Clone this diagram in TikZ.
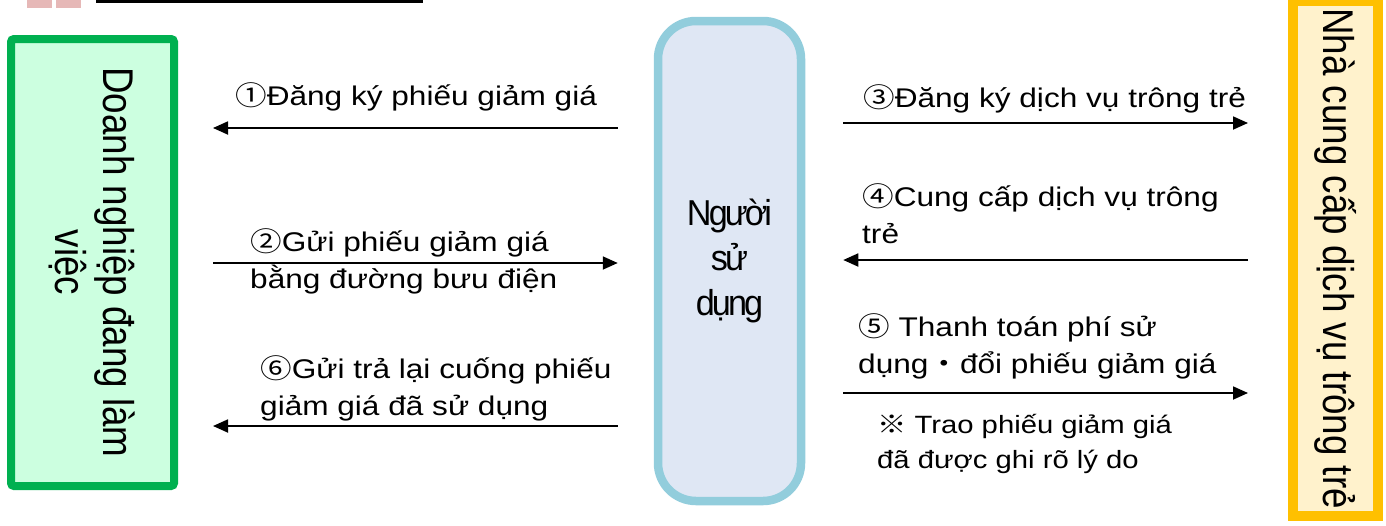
\documentclass[tikz,border=0pt]{standalone}
\usepackage{fontspec}
\setmainfont{Liberation Sans}
\newfontfamily\labfont[FakeStretch=1.17]{Liberation Sans}
\newfontfamily\labcjk[FakeStretch=1.17]{Noto Sans CJK JP}
\newfontfamily\sidefont[FakeStretch=0.855]{Liberation Sans}
\newfontfamily\ctrfont[FakeStretch=0.95,LetterSpace=-8]{Liberation Sans}
\newcommand\cj[1]{{\labcjk #1}}
\usetikzlibrary{arrows.meta,calc}
\definecolor{grnline}{HTML}{00B050}
\definecolor{grnfill}{HTML}{CCFFE0}
\definecolor{ylwline}{HTML}{FFC000}
\definecolor{ylwfill}{HTML}{FFF2CC}
\definecolor{bluline}{HTML}{92CDDC}
\definecolor{blufill}{HTML}{DFE7F4}
\definecolor{pinkbox}{HTML}{E6B8B7}
\tikzset{
  arr/.style={line width=1.8pt,-{Triangle[length=15pt,width=13pt]}},
  lab/.style={anchor=base west,align=left,inner sep=0pt,font=\labfont\fontsize{27}{37}\selectfont},
  notelab/.style={anchor=base west,align=left,inner sep=0pt,font=\labfont\fontsize{25}{35}\selectfont},
  sidetxt/.style={rotate=-90,align=center,inner sep=0pt,font=\sidefont\fontsize{43}{48}\selectfont},
}
\begin{document}
\begin{tikzpicture}[x=1pt,y=-1pt]
\useasboundingbox (0,0) rectangle (1386,525);
% header fragment
\fill[pinkbox] (27,-1) rectangle (52,8);
\fill[pinkbox] (56,-1) rectangle (81,8);
\draw[line width=3pt] (96,1.5) -- (423,1.5);
% boxes
\node[draw=grnline,fill=grnfill,line width=8pt,rounded corners=3pt,
      minimum width=163pt,minimum height=447pt,inner sep=0pt] (comp) at (92.5,262.5) {};
\node[sidetxt] (compt) at (comp.center) {Doanh nghiệp đang làm\\việc};
\node[draw=ylwline,fill=ylwfill,line width=10pt,
      minimum width=85pt,minimum height=515pt,inner sep=0pt] (prov) at (1335.5,258.5) {};
\node[sidetxt] (provt) at (prov.center) {Nhà cung cấp dịch vụ trông trẻ};
\node[draw=bluline,fill=blufill,line width=8.5pt,rounded corners=38pt,
      minimum width=143pt,minimum height=480pt,inner sep=0pt,
      font=\ctrfont\fontsize{36}{45}\selectfont] (user) at (729.5,261)
      {\raisebox{-11pt}{\begin{tabular}{@{}c@{}}Người\\sử\\dụng\end{tabular}}};
% row coordinates
\coordinate (r1) at (0,128);
\coordinate (r2) at (0,263);
\coordinate (r6) at (0,426);
\coordinate (r3) at (0,123);
\coordinate (r4) at (0,260);
\coordinate (r5) at (0,393);
% connectors
\draw[arr,shorten <=36pt,shorten >=35pt] (user.west |- r1) -- (comp.east |- r1);
\draw[arr,shorten <=35pt,shorten >=36pt] (comp.east |- r2) -- (user.west |- r2);
\draw[arr,shorten <=36pt,shorten >=35pt] (user.west |- r6) -- (comp.east |- r6);
\draw[arr,shorten <=38pt,shorten >=40pt] (user.east |- r3) -- (prov.west |- r3);
\draw[arr,shorten <=40pt,shorten >=38pt] (prov.west |- r4) -- (user.east |- r4);
\draw[arr,shorten <=38pt,shorten >=40pt] (user.east |- r5) -- (prov.west |- r5);
% labels (multi-line nodes: base = last line)
\node[lab] (l1) at (235,105) {\cj{①}Đăng ký phiếu giảm giá};
\node[lab] (l2) at (250,288) {\cj{②}Gửi phiếu giảm giá\\bằng đường bưu điện};
\node[lab] (l6) at (260,415) {\cj{⑥}Gửi trả lại cuống phiếu\\giảm giá đã sử dụng};
\node[lab] (l3) at (863,107) {\cj{③}Đăng ký dịch vụ trông trẻ};
\node[lab] (l4) at (862,243) {\cj{④}Cung cấp dịch vụ trông\\trẻ};
\node[lab] (l5) at (858,373) {\cj{⑤} Thanh toán phí sử\\dụng\cj{・}đổi phiếu giảm giá};
\node[notelab] (note) at (877,468) {\cj{※} Trao phiếu giảm giá\\đã được ghi rõ lý do};
\end{tikzpicture}
\end{document}
